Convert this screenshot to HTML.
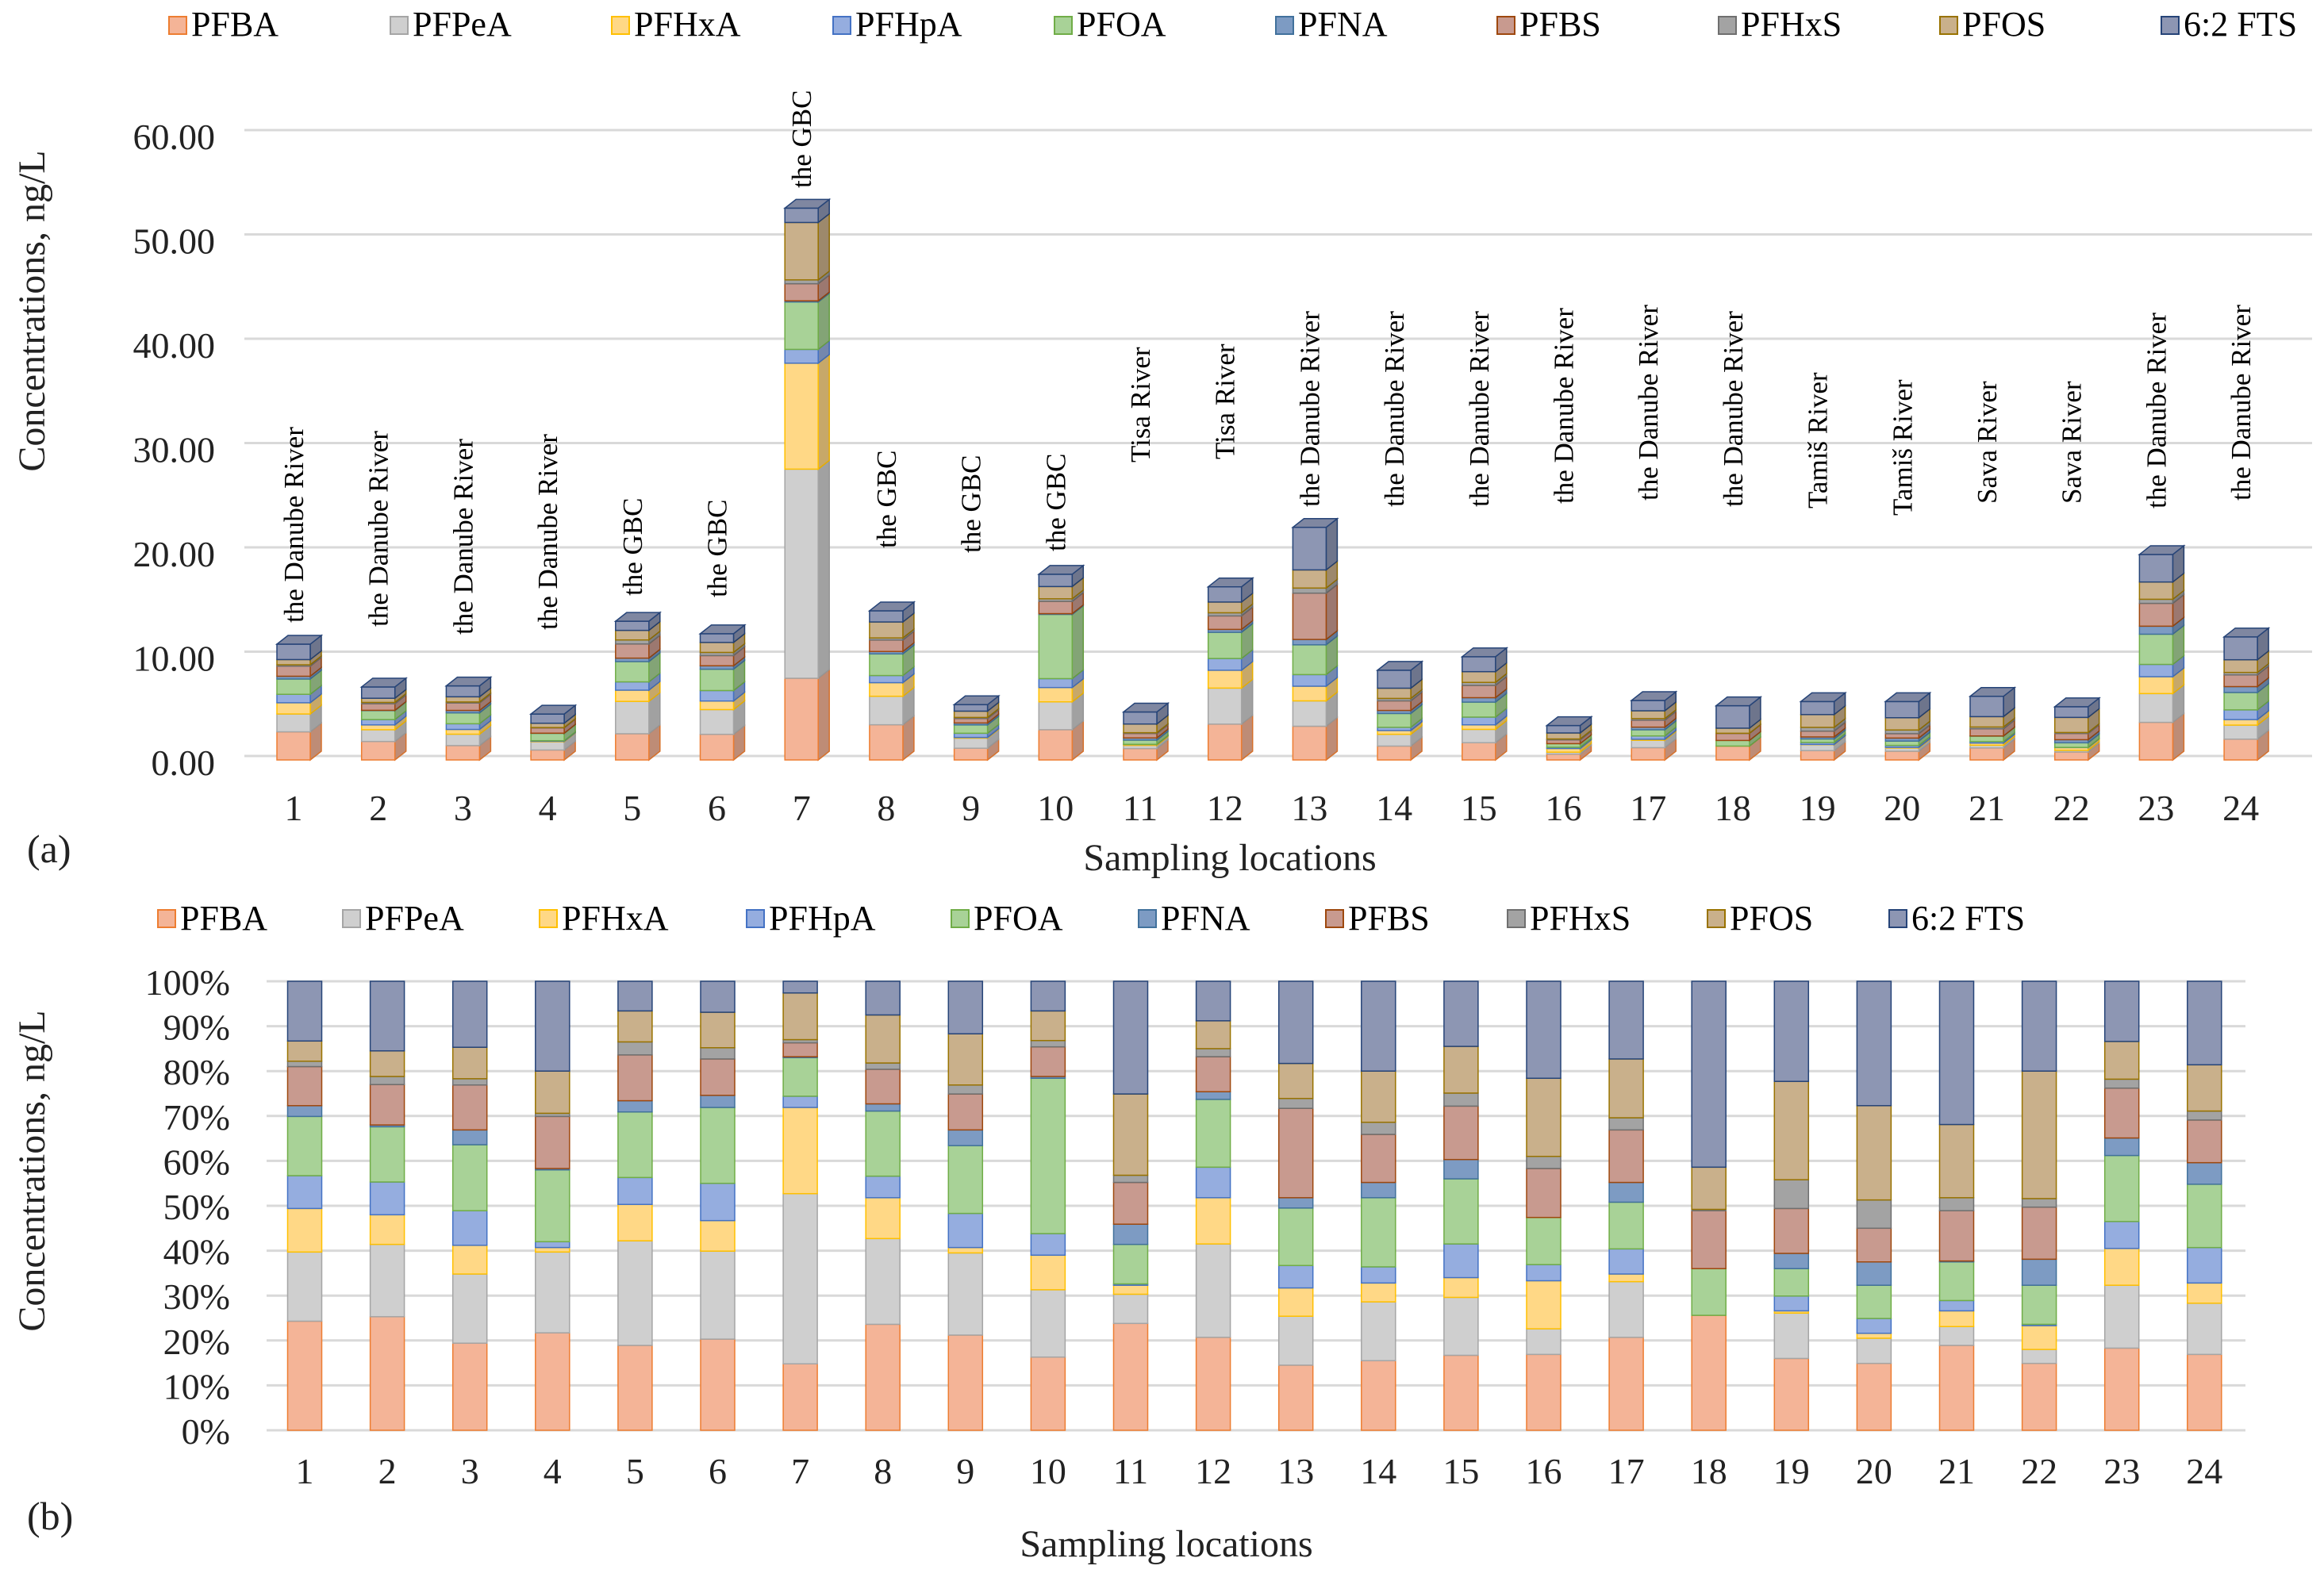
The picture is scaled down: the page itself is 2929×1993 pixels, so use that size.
<!DOCTYPE html>
<html><head><meta charset="utf-8"><title>PFAS concentrations</title>
<style>
html,body{margin:0;padding:0;background:#fff;}
svg{display:block;font-family:"Liberation Serif","DejaVu Serif",serif;}
</style></head>
<body>
<svg id="fig" xmlns="http://www.w3.org/2000/svg" width="2929" height="1993" viewBox="0 0 2929 1993">
<rect width="2929" height="1993" fill="#fff"/>
<g id="panelA"></g>
<g id="panelB"></g>
</svg>
<script>
const compounds = ["PFBA","PFPeA","PFHxA","PFHpA","PFOA","PFNA","PFBS","PFHxS","PFOS","6:2 FTS"];
const sites = ["1","2","3","4","5","6","7","8","9","10","11","12","13","14","15","16","17","18","19","20","21","22","23","24"];
const locationNames = ["the Danube River","the Danube River","the Danube River","the Danube River","the GBC","the GBC","the GBC","the GBC","the GBC","the GBC","Tisa River","Tisa River","the Danube River","the Danube River","the Danube River","the Danube River","the Danube River","the Danube River","Tamiš River","Tamiš River","Sava River","Sava River","the Danube River","the Danube River"];
const totals = [11.1,7.0,7.1,4.4,13.3,12.1,52.9,14.3,5.3,17.8,4.6,16.6,22.3,8.6,9.9,3.3,5.7,5.2,5.6,5.6,6.1,5.1,19.7,11.8];
const yTicksA = ["0.00","10.00","20.00","30.00","40.00","50.00","60.00"];
const yTickValsA = [0,10,20,30,40,50,60];
const yTicksB = ["0%","10%","20%","30%","40%","50%","60%","70%","80%","90%","100%"];
const pctPFBA  = [24.3,25.3,19.4,21.7,18.9,20.3,14.8,23.6,21.2,16.3,23.8,20.7,14.5,15.5,16.7,16.9,20.7,25.6,16.0,14.9,18.9,14.9,18.3,16.9];
const pctPFPeA = [15.4,16.1,15.4,18.0,23.3,19.6,37.9,19.1,18.3,15.0,6.5,20.8,10.9,13.1,12.9,5.7,12.4,0,10.1,5.6,4.2,3.1,14.0,11.4];
const pctPFHxA = [9.7,6.6,6.4,1.0,8.1,6.8,19.2,9.1,1.2,7.7,2.0,10.3,6.3,4.2,4.4,10.7,1.7,0,0.5,1.1,3.5,5.3,8.2,4.5];
const pctPFHpA = [7.3,7.3,7.7,1.3,6.0,8.3,2.5,4.8,7.6,4.8,0.3,6.8,5.0,3.6,7.5,3.6,5.6,0,3.3,3.3,2.3,0.3,6.0,7.9];
const pctPFOA  = [13.2,12.3,14.7,16.0,14.6,16.9,8.6,14.5,15.1,34.6,8.8,15.1,12.8,15.4,14.5,10.5,10.4,10.4,6.1,7.4,8.6,8.7,14.7,14.1];
const pctPFNA  = [2.4,0.4,3.3,0.3,2.5,2.7,0.2,1.6,3.5,0.4,4.5,1.7,2.3,3.4,4.3,0,4.4,0,3.4,5.2,0.2,5.8,3.9,4.8];
const pctPFBS  = [8.7,9.0,10.0,11.6,10.2,8.1,3.1,7.7,8.0,6.6,9.3,7.8,19.9,10.7,11.9,10.9,11.7,12.9,10.0,7.5,11.2,11.6,11.1,9.5];
const pctPFHxS = [1.2,1.8,1.4,0.7,2.9,2.5,0.7,1.4,2.0,1.4,1.6,1.8,2.2,2.7,2.9,2.7,2.7,0.3,6.4,6.3,2.9,1.9,2.0,2.0];
const pctPFOS  = [4.5,5.7,7.0,9.4,6.9,7.9,10.4,10.7,11.4,6.6,18.1,6.2,7.8,11.4,10.4,17.4,13.1,9.4,21.9,21.0,16.3,28.4,8.4,10.3];
const pctFTS   = [13.3,15.5,14.7,20.0,6.6,6.9,2.6,7.5,11.7,6.6,25.1,8.8,18.3,20.0,14.5,21.6,17.3,41.4,22.3,27.7,31.9,20.0,13.4,18.6];
const series = [pctPFBA,pctPFPeA,pctPFHxA,pctPFHpA,pctPFOA,pctPFNA,pctPFBS,pctPFHxS,pctPFOS,pctFTS];

const fills = ["#F4B497","#CFCFCF","#FFD886","#95ADDF","#A8D297","#7D9BC3","#C89A8F","#A3A3A3","#C9B08B","#8D96B3"];
const strokes = ["#ED7D31","#A5A5A5","#FFC000","#4472C4","#70AD47","#41719C","#9E480E","#6F6F6F","#997300","#264478"];
const NS = "http://www.w3.org/2000/svg";
function mk(parent, tag, attrs, text){
  const e = document.createElementNS(NS, tag);
  for (const k in attrs) e.setAttribute(k, attrs[k]);
  if (text !== undefined) e.textContent = text;
  parent.appendChild(e); return e;
}
function shade(hex, f){
  const n = parseInt(hex.slice(1),16);
  let r=(n>>16)&255,g=(n>>8)&255,b=n&255;
  r=Math.round(r*f);g=Math.round(g*f);b=Math.round(b*f);
  return "rgb("+Math.min(255,r)+","+Math.min(255,g)+","+Math.min(255,b)+")";
}
function shares(i){
  let s=0; const out=[];
  for (const arr of series) s+=arr[i];
  for (const arr of series) out.push(s>0?arr[i]/s:0);
  return out;
}
function slug(c){ return c.replace(/[^A-Za-z0-9]/g,'').toLowerCase(); }

/* ---------- Panel (a) ---------- */
const topG = document.getElementById("panelA");
const A = {base:958, grid0:953, ppu:13.15, x0:370, step:106.7, bw:42, dx:14, dy:11, gx1:308, gx2:2914};
function yA(v){ return A.base - v*A.ppu; }
function gA(v){ return A.grid0 - v*A.ppu; }
function xA(i){ return A.x0 + i*A.step; }

const legA = [213,492,771,1050,1329,1608,1887,2166,2445,2724];
compounds.forEach((c,k)=>{
  const g = mk(topG,"g",{});
  
  
  mk(g,"rect",{x:legA[k],y:21,width:22,height:22,fill:fills[k],stroke:strokes[k],"stroke-width":2});
  mk(g,"text",{x:legA[k]+28,y:45,"font-size":44,fill:"#000"},c);
});

yTickValsA.forEach((v,j)=>{
  const l = mk(topG,"line",{x1:A.gx1,x2:A.gx2,y1:gA(v),y2:gA(v),stroke:"#D9D9D9","stroke-width":3});
  
  
  const t = mk(topG,"text",{x:271,y:gA(v)+24,"font-size":46,"text-anchor":"end",fill:"#222"},yTicksA[j]);
  
  
});

const labelBottomA = [785,790,800,794,751,753,237,691,697,695,583,579,639,639,639,635,631,639,641,650,635,635,641,631];
sites.forEach((s,i)=>{
  const sh = shares(i);
  const bar = mk(topG,"g",{});
  
  
  const x = xA(i) - A.bw/2;
  let cum = 0;
  let ytTop = yA(0);
  sh.forEach((f,k)=>{
    const v = totals[i]*f;
    if (v<=0) return;
    const yb = yA(cum), yt = yA(cum+v);
    cum += v; ytTop = yt;
    const seg = mk(bar,"g",{});
    
    
    mk(seg,"polygon",{points:`${x+A.bw},${yb} ${x+A.bw+A.dx},${yb-A.dy} ${x+A.bw+A.dx},${yt-A.dy} ${x+A.bw},${yt}`,fill:shade(fills[k],0.78),stroke:shade(strokes[k],0.9),"stroke-width":1.5});
    mk(seg,"rect",{x:x,y:yt,width:A.bw,height:yb-yt,fill:fills[k],stroke:strokes[k],"stroke-width":1.5});
  });
  const kTop = 9;
  mk(bar,"polygon",{points:`${x},${ytTop} ${x+A.bw},${ytTop} ${x+A.bw+A.dx},${ytTop-A.dy} ${x+A.dx},${ytTop-A.dy}`,fill:shade(fills[kTop],0.9),stroke:strokes[kTop],"stroke-width":1.5});
  const tl = mk(topG,"text",{x:xA(i)+12,y:labelBottomA[i],"font-size":35,fill:"#000",transform:`rotate(-90 ${xA(i)+12} ${labelBottomA[i]})`},locationNames[i]);
  
  
  const xl = mk(topG,"text",{x:xA(i),y:1034,"font-size":46,"text-anchor":"middle",fill:"#222"},s);
  
  
});
const yta = mk(topG,"text",{x:56,y:392,"font-size":48,"text-anchor":"middle",transform:"rotate(-90 56 392)",fill:"#222"},"Concentrations, ng/L");


const xta = mk(topG,"text",{x:1550,y:1097,"font-size":48,"text-anchor":"middle",fill:"#222"},"Sampling locations");


const pa = mk(topG,"text",{x:34,y:1087,"font-size":50,fill:"#222"},"(a)");



/* ---------- Panel (b) ---------- */
const botG = document.getElementById("panelB");
const B = {y0:1803, y100:1237, x0:384, step:104.1, bw:43, gx1:336, gx2:2830};
function yB(p){ return B.y0 - (B.y0-B.y100)*p/100; }
function xB(i){ return B.x0 + i*B.step; }
const legB = [199,432,680,941,1199,1435,1671,1900,2152,2381];
compounds.forEach((c,k)=>{
  const g = mk(botG,"g",{});
  
  
  mk(g,"rect",{x:legB[k],y:1147,width:22,height:22,fill:fills[k],stroke:strokes[k],"stroke-width":2});
  mk(g,"text",{x:legB[k]+28,y:1172,"font-size":44,fill:"#000"},c);
});
yTicksB.forEach((lab,j)=>{
  const p = j*10;
  const l = mk(botG,"line",{x1:B.gx1,x2:B.gx2,y1:yB(p),y2:yB(p),stroke:"#D9D9D9","stroke-width":3});
  
  
  const t = mk(botG,"text",{x:290,y:yB(p)+17,"font-size":46,"text-anchor":"end",fill:"#222"},lab);
  
  
});
sites.forEach((s,i)=>{
  const sh = shares(i);
  const bar = mk(botG,"g",{});
  
  
  let cum = 0;
  sh.forEach((f,k)=>{
    const p = f*100;
    if (p<=0) return;
    const yb = yB(cum), yt = yB(cum+p);
    cum += p;
    const r = mk(bar,"rect",{x:xB(i)-B.bw/2,y:yt,width:B.bw,height:yb-yt,fill:fills[k],stroke:strokes[k],"stroke-width":1.5});
    
    
  });
  const xl = mk(botG,"text",{x:xB(i),y:1870,"font-size":46,"text-anchor":"middle",fill:"#222"},s);
  
  
});
const ytb = mk(botG,"text",{x:56,y:1476,"font-size":48,"text-anchor":"middle",transform:"rotate(-90 56 1476)",fill:"#222"},"Concentrations, ng/L");


const xtb = mk(botG,"text",{x:1470,y:1962,"font-size":48,"text-anchor":"middle",fill:"#222"},"Sampling locations");


const pb = mk(botG,"text",{x:34,y:1928,"font-size":50,fill:"#222"},"(b)");


</script>
</body></html>
